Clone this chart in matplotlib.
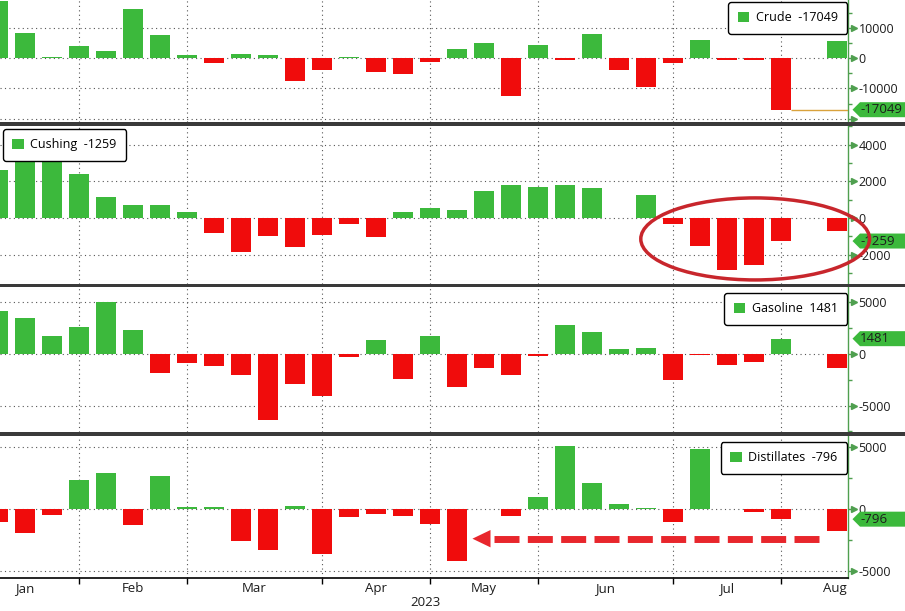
import numpy as np
import pandas as pd
import matplotlib
matplotlib.use("Agg")
import matplotlib.pyplot as plt
from matplotlib.patches import Patch, Polygon, Ellipse, Rectangle
from matplotlib.ticker import FuncFormatter, MultipleLocator

plt.rcParams['font.family'] = ['Open Sans', 'DejaVu Sans']
plt.rcParams['axes.unicode_minus'] = False

# weekly changes in US inventories (thousand barrels), weeks ending Friday
weeks = pd.date_range("2023-01-06", "2023-08-04", freq="W-FRI")

crude = [18962, 8408, 533, 4140, 2423, 16283, 7648, 1166, -1694, 1550,
         1117, -7489, -3739, 597, -4581, -5054, -1280, 2951, 5040, -12456,
         4489, -451, 7919, -3831, -9603, -1508, 5946, -708, -600, -17049, 5851]
cushing = [2600, 3500, 3300, 2370, 1130, 690, 730, 345, -840, -1880,
           -1000, -1600, -950, -345, -1060, 345, 565, 455, 1490, 1820,
           1680, 1790, 1620, -30, 1270, -330, -1550, -2860, -2580, -1259, -730]
gasoline = [4200, 3520, 1740, 2620, 5070, 2330, -1810, -840, -1130, -2000,
            -6400, -2870, -4040, -260, 1360, -2390, 1740, -3170, -1320, -2000,
            -160, 2810, 2130, 480, 580, -2490, -60, -1030, -740, 1481, -1320]
distillates = [-1020, -1880, -430, 2370, 2930, -1260, 2720, 160, 190, -2530,
               -3250, 270, -3600, -620, -380, -540, -1160, -4140, 60, -540,
               1000, 5110, 2130, 430, 80, -1020, 4900, 30, -215, -796, -1750]

names = ["Crude", "Cushing", "Gasoline", "Distillates"]
series = [crude, cushing, gasoline, distillates]
tag_week = pd.Timestamp("2023-07-28")   # week quoted in legends / right tags

GREEN = "#3cb93c"
RED = "#f00c0c"
AXGREEN = "#4f9f4f"
TXT = "#1c1c1c"
GRID = "#555555"

W, H = 905, 611
fig = plt.figure(figsize=(W / 100, H / 100), dpi=100, facecolor="white")

# panel extents in pixels (top, bottom) and y limits
panels = [(0, 122), (126, 284), (287, 432), (436, 578)]
ylims = [(-21130, 19340), (-3600, 5010), (-7550, 6480), (-5540, 5910)]
major = [10000, 2000, 5000, 5000]
label_max = [10000, 4000, 5000, 5000]   # largest tick value that gets a label
legend_loc = [("upper right", 847, 2), ("upper left", 3, 3),
              ("upper right", 847, 6), ("upper right", 847, 6)]
AX_RIGHT = 848

# x positions: one slot per week, latest print pinned to the right edge
BAR_W = 0.74
XMIN, XMAX = 0.07, 31.5
x = np.arange(len(weeks), dtype=float)
x[-1] = XMAX - BAR_W / 2 - 0.02

# month boundaries = last Friday of each month
fridays = pd.date_range("2022-12-30", "2023-08-25", freq="W-FRI")
pos = pd.Series(((fridays - weeks[0]).days // 7).astype(float), index=fridays)
ends = pos.groupby(pos.index.to_period("M")).max()
month_grid = ends.values[1:-1]
month_mid = (ends.values[:-1] + ends.values[1:]) / 2
month_names = [p.strftime("%b") for p in ends.index[1:]]

tag_idx = list(weeks).index(tag_week)


def tick_fmt(limit):
    return FuncFormatter(lambda v, _: f"{v:.0f}" if abs(v) <= limit else "")


axes = []
for i, (name, vals) in enumerate(zip(names, series)):
    top, bot = panels[i]
    ax = fig.add_axes([0, 1 - bot / H, AX_RIGHT / W, (bot - top) / H])
    axes.append(ax)
    vals = np.array(vals)
    colors = np.where(vals >= 0, GREEN, RED)
    ax.bar(x, vals, width=BAR_W, color=colors, zorder=2)
    ax.set_xlim(XMIN, XMAX)
    ax.set_ylim(*ylims[i])

    # right axis styling
    for s in ["top", "left", "bottom"]:
        ax.spines[s].set_visible(False)
    ax.spines["right"].set_color(AXGREEN)
    ax.spines["right"].set_linewidth(1)
    ax.yaxis.tick_right()
    ax.yaxis.set_major_locator(MultipleLocator(major[i]))
    ax.yaxis.set_minor_locator(MultipleLocator(major[i] / 2))
    ax.yaxis.set_major_formatter(tick_fmt(label_max[i]))
    ax.tick_params(axis="y", which="major", length=4.5, width=1, color=AXGREEN,
                   labelsize=9, labelcolor=TXT, pad=3)
    ax.tick_params(axis="y", which="minor", length=3, width=1, color=AXGREEN)

    # grid
    ax.set_xticks(month_grid)
    ax.grid(True, which="major", color=GRID, linestyle=(0, (1, 3)),
            linewidth=0.8, zorder=0)
    ax.set_axisbelow(True)
    if i < 3:
        ax.tick_params(axis="x", length=0, labelbottom=False)

    wpx, hpx = ax.bbox.width, ax.bbox.height
    ymin, ymax = ax.get_ylim()

    # arrow heads on the major ticks
    ticks = [t for t in ax.get_yticks() if ymin <= t <= ymax]
    ax.plot([1 + 6 / wpx] * len(ticks), ticks, linestyle="none", marker=">",
            markersize=4, color=AXGREEN, transform=ax.get_yaxis_transform(),
            clip_on=False, zorder=5)

    # legend box
    val = vals[tag_idx]
    loc, lx, ly = legend_loc[i]
    h = Patch(facecolor=GREEN, edgecolor="none")
    leg = ax.legend([h], [f"{name}  {val}"], loc=loc,
                    bbox_to_anchor=(lx / AX_RIGHT, 1 - ly / hpx),
                    borderaxespad=0, fontsize=9, handlelength=0.95,
                    handleheight=0.95, handletextpad=0.5, borderpad=0.75,
                    fancybox=True, framealpha=1, edgecolor="black")
    leg.get_frame().set_linewidth(1)
    leg.set_zorder(6)

    # value tag on the right axis
    yf = (val - ymin) / (ymax - ymin)
    dh = 7.5 / hpx
    x0, x1, x2 = 1 + 4.5 / wpx, 1 + 12 / wpx, 1 + (W - AX_RIGHT) / wpx
    ax.add_patch(Polygon([(x0, yf), (x1, yf + dh), (x2, yf + dh),
                          (x2, yf - dh), (x1, yf - dh)], closed=True,
                         transform=ax.transAxes, facecolor=GREEN,
                         edgecolor="none", clip_on=False, zorder=7))
    ax.text(1 + 12 / wpx, yf, f"{val}", transform=ax.transAxes, ha="left",
            va="center", fontsize=9.5, color=TXT, zorder=8, clip_on=False)

# crude: thin line from the tagged bar to the axis
axes[0].hlines(crude[tag_idx], x[tag_idx] + BAR_W / 2, XMAX, color="#d9a23c",
               linewidth=1, zorder=3)

# bottom axis with month labels
axb = axes[3]
axb.spines["bottom"].set_visible(True)
axb.spines["bottom"].set_color("black")
axb.spines["bottom"].set_linewidth(1.2)
axb.set_xticklabels([])
axb.tick_params(axis="x", which="major", length=4, width=1, color="black",
                direction="out")
axb.set_xticks(month_mid, month_names, minor=True)
axb.tick_params(axis="x", which="minor", length=0, labelsize=9.5,
                labelcolor=TXT, pad=3)
fig.text(425 / W, 1 - 603 / H, "2023", ha="center", va="center",
         fontsize=9.5, color=TXT)

# dark separators between panels
for y0, y1 in [(122, 126), (284, 287), (432, 436)]:
    fig.add_artist(Rectangle((0, 1 - y1 / H), 1, (y1 - y0) / H,
                             transform=fig.transFigure, facecolor="#3a3a3a",
                             edgecolor="none", zorder=10))

# annotations: ring around the recent Cushing draws
axes[1].add_patch(Ellipse((28.06, -1144), 8.48, 4470, fill=False,
                          edgecolor="#c8262c", linewidth=2.5, clip_on=False,
                          zorder=9))

# dashed arrow back to the May distillate draw
ARROW = "#e8262c"
axb.plot([30.44, 18.25], [-2370, -2370], color=ARROW, linewidth=5,
         dashes=(3.6, 1.2), solid_capstyle="butt", zorder=9)
axb.add_patch(Polygon([(17.58, -2370), (18.25, -1670), (18.25, -3070)],
                      closed=True, facecolor=ARROW, edgecolor="none",
                      zorder=9))

fig.savefig("out.png", dpi=100, facecolor="white")
